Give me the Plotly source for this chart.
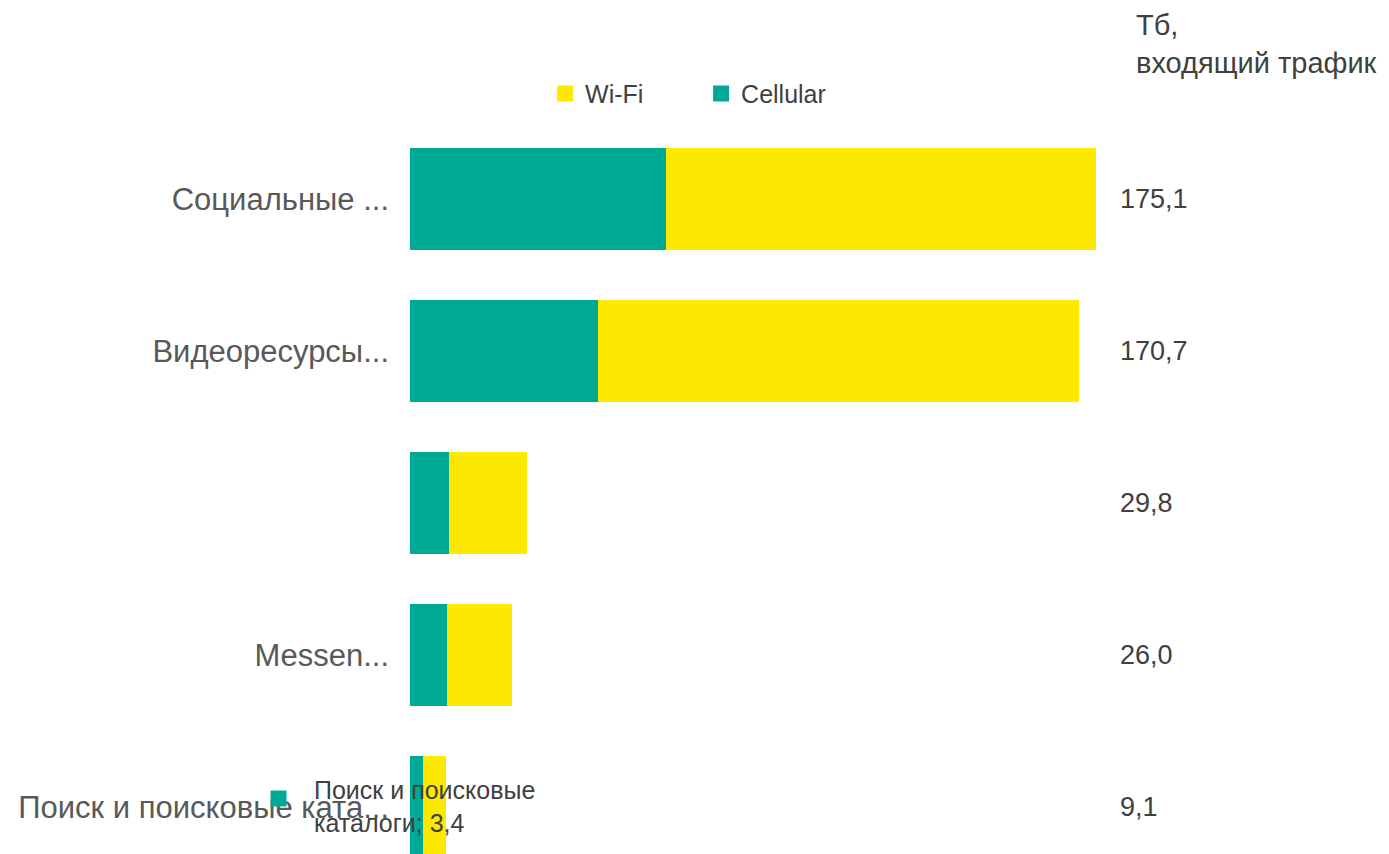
import plotly.graph_objects as go

categories = ["Социальные ...", "Видеоресурсы...", " ", "Messen...", "Поиск и поисковые ката..."]
cellular = [65.3, 48.0, 10.0, 9.4, 3.4]
wifi = [109.8, 122.7, 19.8, 16.6, 5.7]
totals = ["175,1", "170,7", "29,8", "26,0", "9,1"]
unit_title = "Тб,<br>входящий трафик"
data_label = "Поиск и поисковые<br>каталоги; 3,4"

TEAL = "#00A994"
YELLOW = "#FCE800"
FONT = "Liberation Sans, Arial, sans-serif"

fig = go.Figure()
fig.add_trace(go.Bar(y=categories, x=cellular, orientation="h", name="Cellular",
                     marker=dict(color=TEAL, line=dict(width=0)), showlegend=False))
fig.add_trace(go.Bar(y=categories, x=wifi, orientation="h", name="Wi-Fi",
                     marker=dict(color=YELLOW, line=dict(width=0)), showlegend=False))
# legend entries
fig.add_trace(go.Scatter(x=[None], y=[None], mode="markers", name="Wi-Fi",
                         marker=dict(symbol="square", size=16, color=YELLOW)))
fig.add_trace(go.Scatter(x=[None], y=[None], mode="markers", name="Cellular",
                         marker=dict(symbol="square", size=16, color=TEAL)))

for cat, t in zip(categories, totals):
    fig.add_annotation(x=1.012, xref="paper", y=cat, yref="y", text=t, showarrow=False,
                       xanchor="left", yanchor="middle",
                       font=dict(family=FONT, size=27, color="#404040"))

fig.add_annotation(x=1.035, xref="paper", y=1.157, yref="paper", text=unit_title,
                   showarrow=False, xanchor="left", yanchor="top", align="left",
                   borderpad=0,
                   font=dict(family=FONT, size=29, color="#404040"))

# data label with legend key for the last category
fig.add_annotation(x=-0.14, xref="paper", y=categories[-1], yref="y", text=data_label,
                   showarrow=False, xanchor="left", yanchor="middle", align="left",
                   font=dict(family=FONT, size=25, color="#404040"))
fig.add_annotation(x=-0.2, xref="paper", y=categories[-1], yref="y", text=" ",
                   showarrow=False, xanchor="left", yanchor="middle", yshift=8,
                   width=15, height=15, bgcolor=TEAL, borderpad=0,
                   font=dict(size=4))

fig.update_layout(
    width=1381, height=846,
    barmode="stack", bargap=0.33,
    plot_bgcolor="white", paper_bgcolor="white",
    margin=dict(l=402, r=279, t=115, b=0),
    font=dict(family=FONT, color="#595959"),
    showlegend=True,
    legend=dict(orientation="h", traceorder="normal", x=0.193, xanchor="left",
                y=1.04, yanchor="middle",
                font=dict(family=FONT, size=25, color="#404040"),
                entrywidth=111, bgcolor="rgba(0,0,0,0)"),
    xaxis=dict(range=[0, 178.7], visible=False, showgrid=False, zeroline=False, fixedrange=True),
    yaxis=dict(type="category", categoryorder="array", categoryarray=categories,
               range=[4.31, -0.5], showgrid=False, zeroline=False, showline=False,
               ticks="", ticklabelstandoff=20,
               tickfont=dict(family=FONT, size=31, color="#595959")),
)

fig.write_html("out.html")
